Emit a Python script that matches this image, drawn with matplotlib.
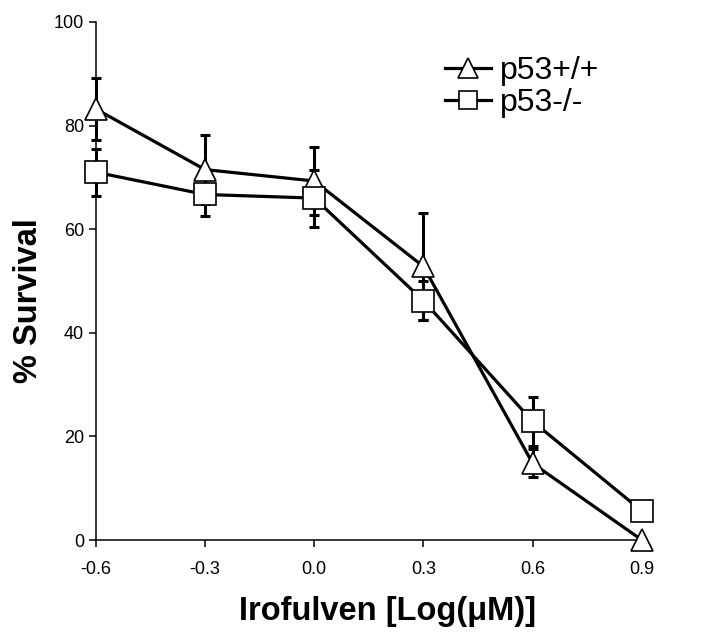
import matplotlib.pyplot as plt

plt.rcParams['font.family'] = ['Liberation Sans', 'DejaVu Sans']

# Irofulven concentration, log(uM)
doses = [-0.6, -0.3, 0.0, 0.3, 0.6, 0.9]
tick_labels = ['-0.6', '-0.3', '0.0', '0.3', '0.6', '0.9']

# % survival, p53+/+ cells
wt_survival = [83.2, 71.5, 69.3, 52.8, 14.8, 0.0]
wt_err = [6.0, 6.7, 6.5, 10.3, 2.7, 0.0]

# % survival, p53-/- cells
ko_survival = [71.0, 66.7, 66.0, 46.2, 22.9, 5.6]
ko_err = [4.5, 4.1, 5.5, 3.8, 4.7, 0.0]

fig = plt.figure(figsize=(7.1, 6.35), dpi=100)
ax = fig.add_axes([0.135, 0.1496, 0.769, 0.8158])

# error bars first so the white markers sit on top
for y, e in [(wt_survival, wt_err), (ko_survival, ko_err)]:
    ax.errorbar(doses, y, yerr=e, fmt='none', ecolor='black',
                elinewidth=2.2, capsize=3.6, capthick=2.2, zorder=2, clip_on=False)

ax.plot(doses, wt_survival, color='black', lw=2.3, marker='^', markersize=16.5,
        markerfacecolor='white', markeredgecolor='black', markeredgewidth=1.2,
        label='p53+/+', zorder=3, clip_on=False)
ax.plot(doses, ko_survival, color='black', lw=2.3, marker='s', markersize=16,
        markerfacecolor='white', markeredgecolor='black', markeredgewidth=1.2,
        label='p53-/-', zorder=3, clip_on=False)

ax.set_xlim(-0.6, 0.9)
ax.set_ylim(0, 100)
ax.set_xticks(doses)
ax.set_xticklabels(tick_labels)
ax.set_yticks([0, 20, 40, 60, 80, 100])

for side in ['top', 'right']:
    ax.spines[side].set_visible(False)
for side in ['left', 'bottom']:
    ax.spines[side].set_linewidth(1.1)

ax.tick_params(direction='out', length=5, width=1.1, labelsize=13)
ax.tick_params(axis='x', pad=10)

ax.set_xlabel('Irofulven [Log(\u03bcM)]', fontsize=23.5, fontweight='bold')
ax.set_ylabel('% Survival', fontsize=23.5, fontweight='bold')
ax.xaxis.set_label_coords(0.535, -0.108)
ax.yaxis.set_label_coords(-0.095, 0.463)

leg = fig.legend(loc='upper left', bbox_to_anchor=(0.627, 0.912), frameon=False,
                 fontsize=23, handlelength=1.45, handletextpad=0.25,
                 labelspacing=0.08, markerscale=0.85, borderpad=0,
                 borderaxespad=0)

fig.savefig('out.png', dpi=100)
